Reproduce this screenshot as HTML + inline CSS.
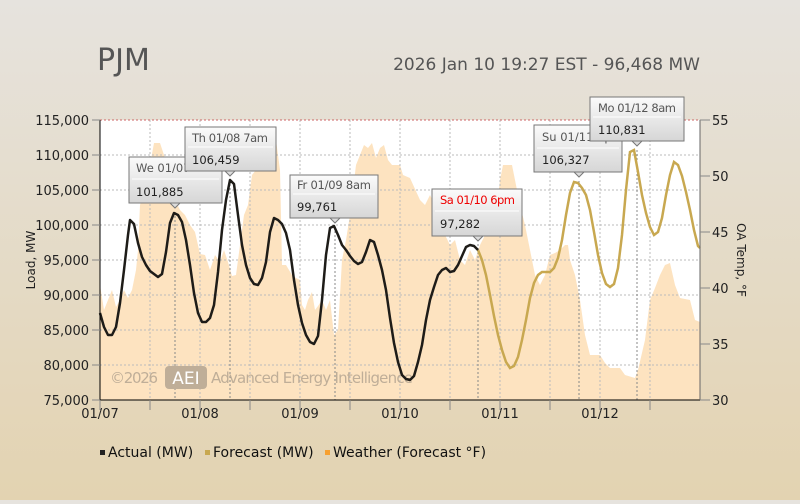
<!DOCTYPE html>
<html><head><meta charset="utf-8"><style>
html,body{margin:0;padding:0;}
body{width:800px;height:500px;background:linear-gradient(#e6e3de,#e3d3b1);font-family:"DejaVu Sans","Liberation Sans",sans-serif;overflow:hidden;}
svg text{font-family:"DejaVu Sans","Liberation Sans",sans-serif;}
</style></head><body>
<svg width="800" height="500" viewBox="0 0 800 500" xmlns="http://www.w3.org/2000/svg">
<defs>
<linearGradient id="tg" x1="0" y1="0" x2="0" y2="1"><stop offset="0" stop-color="#fbfbfb"/><stop offset="1" stop-color="#d6d6d6"/></linearGradient>
</defs>
<text x="97" y="70" font-size="30" fill="#555">PJM</text>
<text x="700" y="70" font-size="17" fill="#555" text-anchor="end">2026 Jan 10 19:27 EST - 96,468 MW</text>
<rect x="100" y="120" width="600" height="280" fill="#fff"/>
<polygon fill="#fde3c0" points="100,400 100,285 104,310 108,300 112,290 116,307 120,300 124,290 128,298 132,290 136,270 138,250 140,205 145,190 150,165 154,143 160,143 165,158 170,175 175,200 180,210 185,215 190,225 195,232 200,254 205,255 210,270 215,255 220,262 224,250 228,262 232,276 236,275 240,245 244,215 248,205 252,175 256,170 260,170 265,160 270,145 276,140 280,170 282,265 286,265 292,275 296,278 300,280 302,305 305,310 308,300 312,292 315,310 318,306 322,300 326,310 330,300 334,335 338,330 342,260 346,240 350,215 356,165 360,155 364,145 368,148 372,143 376,158 380,148 384,145 388,160 392,165 400,165 403,175 410,178 420,200 425,205 430,195 440,215 445,235 450,245 455,240 460,260 465,265 470,250 475,260 480,245 485,235 490,228 495,225 500,180 503,165 512,165 515,180 520,205 525,225 530,250 535,275 540,285 545,275 550,255 555,253 560,250 565,245 568,245 570,260 575,275 580,300 585,335 590,355 600,355 605,363 610,368 620,368 625,375 635,378 638,370 645,340 650,300 655,288 660,275 665,265 670,263 675,285 680,298 690,300 695,320 700,322 700,400"/>
<g stroke="#bbb" stroke-dasharray="2,2" stroke-width="1">
<line x1="100" y1="155" x2="700" y2="155"/><line x1="100" y1="190" x2="700" y2="190"/><line x1="100" y1="225" x2="700" y2="225"/><line x1="100" y1="260" x2="700" y2="260"/><line x1="100" y1="295" x2="700" y2="295"/><line x1="100" y1="330" x2="700" y2="330"/><line x1="100" y1="365" x2="700" y2="365"/>
<line x1="150" y1="120" x2="150" y2="400"/><line x1="200" y1="120" x2="200" y2="400"/><line x1="250" y1="120" x2="250" y2="400"/><line x1="300" y1="120" x2="300" y2="400"/><line x1="350" y1="120" x2="350" y2="400"/><line x1="400" y1="120" x2="400" y2="400"/><line x1="450" y1="120" x2="450" y2="400"/><line x1="500" y1="120" x2="500" y2="400"/><line x1="550" y1="120" x2="550" y2="400"/><line x1="600" y1="120" x2="600" y2="400"/><line x1="650" y1="120" x2="650" y2="400"/>
</g>
<line x1="100" y1="120" x2="700" y2="120" stroke="#c66" stroke-dasharray="2,2"/>
<g stroke="#888" stroke-dasharray="2,2">
<line x1="175" y1="212" x2="175" y2="400"/><line x1="230" y1="180" x2="230" y2="400"/><line x1="335" y1="227" x2="335" y2="400"/><line x1="478" y1="244" x2="478" y2="400"/><line x1="579" y1="181" x2="579" y2="400"/><line x1="637" y1="150" x2="637" y2="400"/>
</g>
<text x="110" y="383" font-size="15" fill="#bfae98" textLength="48">©2026</text>
<rect x="165" y="366" width="42" height="23" rx="4" fill="#bfae98"/>
<text x="186" y="384" font-size="17" fill="#fff" text-anchor="middle">AEI</text>
<text x="211" y="383" font-size="15" fill="#bfae98" textLength="202">Advanced Energy Intelligence</text>
<polyline fill="none" stroke="#c8a850" stroke-width="2.5" points="478,250 482,260 486,275 490,295 494,316 498,335 502,350 506,362 510,368 514,366 518,357 522,340 526,320 530,298 534,283 538,275 542,272 546,272 550,272 554,268 558,258 562,240 566,215 570,193 574,182 578,183 582,188 586,195 590,210 594,232 598,255 602,273 606,284 610,287 614,284 618,268 622,235 626,190 630,152 634,150 638,172 642,195 646,213 650,227 654,235 658,232 662,218 666,195 670,175 674,162 678,165 682,176 686,192 690,210 694,230 698,246 700,248"/>
<polyline fill="none" stroke="#1e1c18" stroke-width="2.5" stroke-linejoin="round" points="100,313 104,327 108,335 112,335 116,327 120,303 124,270 128,235 130,220 134,224 138,243 142,257 146,265 150,271 154,274 158,277 162,274 166,252 170,223 174,213 178,215 182,222 186,240 190,265 194,293 198,313 202,322 206,322 210,318 214,305 218,272 222,230 226,200 230,180 234,184 238,215 242,245 246,265 250,278 254,284 258,285 262,278 266,262 270,232 274,218 278,220 282,224 286,233 290,250 294,280 298,305 302,323 306,335 310,342 314,344 318,336 322,300 326,255 330,228 334,226 338,235 342,245 346,250 350,256 354,261 358,264 362,262 366,252 370,240 374,242 378,255 382,270 386,290 390,318 394,343 398,362 402,375 406,379 410,380 414,376 418,362 422,345 426,320 430,300 434,287 438,275 442,270 446,268 450,272 454,271 458,265 462,256 466,247 470,245 474,246 478,250"/>
<line x1="100" y1="120" x2="100" y2="400" stroke="#000"/>
<line x1="100" y1="400" x2="700" y2="400" stroke="#000"/>
<line x1="700" y1="120" x2="700" y2="400" stroke="#666"/>
<g stroke="#888">
<line x1="92" y1="120" x2="100" y2="120"/><line x1="92" y1="155" x2="100" y2="155"/><line x1="92" y1="190" x2="100" y2="190"/><line x1="92" y1="225" x2="100" y2="225"/><line x1="92" y1="260" x2="100" y2="260"/><line x1="92" y1="295" x2="100" y2="295"/><line x1="92" y1="330" x2="100" y2="330"/><line x1="92" y1="365" x2="100" y2="365"/><line x1="92" y1="400" x2="100" y2="400"/>
<line x1="700" y1="120" x2="710" y2="120"/><line x1="700" y1="176" x2="710" y2="176"/><line x1="700" y1="232" x2="710" y2="232"/><line x1="700" y1="288" x2="710" y2="288"/><line x1="700" y1="344" x2="710" y2="344"/><line x1="700" y1="400" x2="710" y2="400"/>
<line x1="100" y1="400" x2="100" y2="410"/><line x1="150" y1="400" x2="150" y2="410"/><line x1="200" y1="400" x2="200" y2="410"/><line x1="250" y1="400" x2="250" y2="410"/><line x1="300" y1="400" x2="300" y2="410"/><line x1="350" y1="400" x2="350" y2="410"/><line x1="400" y1="400" x2="400" y2="410"/><line x1="450" y1="400" x2="450" y2="410"/><line x1="500" y1="400" x2="500" y2="410"/><line x1="550" y1="400" x2="550" y2="410"/><line x1="600" y1="400" x2="600" y2="410"/><line x1="650" y1="400" x2="650" y2="410"/>
</g>
<g font-size="13" fill="#222" text-anchor="end">
<text x="89" y="125">115,000</text><text x="89" y="160">110,000</text><text x="89" y="195">105,000</text><text x="89" y="230">100,000</text><text x="89" y="265">95,000</text><text x="89" y="300">90,000</text><text x="89" y="335">85,000</text><text x="89" y="370">80,000</text><text x="89" y="405">75,000</text>
</g>
<g font-size="13" fill="#222">
<text x="712" y="125">55</text><text x="712" y="181">50</text><text x="712" y="237">45</text><text x="712" y="293">40</text><text x="712" y="349">35</text><text x="712" y="405">30</text>
</g>
<g font-size="13" fill="#222" text-anchor="middle">
<text x="100" y="418">01/07</text><text x="200" y="418">01/08</text><text x="300" y="418">01/09</text><text x="400" y="418">01/10</text><text x="500" y="418">01/11</text><text x="600" y="418">01/12</text>
</g>
<text transform="translate(35,260) rotate(-90)" font-size="12" fill="#222" text-anchor="middle">Load, MW</text>
<text transform="translate(737,260) rotate(90)" font-size="12" fill="#222" text-anchor="middle">OA Temp, °F</text>
<g font-size="11.5">
<g><rect x="129" y="157" width="93" height="46" fill="url(#tg)" stroke="#777"/><polygon points="170,203 180,203 175,208" fill="#ddd" stroke="#777"/><line x1="132" y1="179" x2="219" y2="179" stroke="#fff"/><text x="136" y="172" fill="#555">We 01/07</text><text x="136" y="196" fill="#222">101,885</text></g>
<g><rect x="185" y="127" width="91" height="44" fill="url(#tg)" stroke="#777"/><polygon points="225,171 235,171 230,176" fill="#ddd" stroke="#777"/><line x1="188" y1="147" x2="273" y2="147" stroke="#fff"/><text x="192" y="142" fill="#555" textLength="76">Th 01/08 7am</text><text x="192" y="164" fill="#222">106,459</text></g>
<g><rect x="290" y="175" width="88" height="43" fill="url(#tg)" stroke="#777"/><polygon points="330,218 340,218 335,223" fill="#ddd" stroke="#777"/><line x1="293" y1="194" x2="375" y2="194" stroke="#fff"/><text x="297" y="189" fill="#555" textLength="74">Fr 01/09 8am</text><text x="297" y="211" fill="#222">99,761</text></g>
<g><rect x="432" y="189" width="90" height="47" fill="url(#tg)" stroke="#777"/><polygon points="473,236 483,236 478,241" fill="#ddd" stroke="#777"/><line x1="435" y1="211" x2="519" y2="211" stroke="#fff"/><text x="440" y="204" fill="#e00" textLength="75">Sa 01/10 6pm</text><text x="440" y="228" fill="#222">97,282</text></g>
<g><rect x="534" y="125" width="88" height="47" fill="url(#tg)" stroke="#777"/><polygon points="574,172 584,172 579,177" fill="#ddd" stroke="#777"/><line x1="537" y1="148" x2="619" y2="148" stroke="#fff"/><text x="542" y="141" fill="#555">Su 01/11 7pm</text><text x="542" y="164" fill="#222">106,327</text></g>
<g><rect x="590" y="97" width="94" height="44" fill="url(#tg)" stroke="#777"/><polygon points="632,141 642,141 637,146" fill="#ddd" stroke="#777"/><line x1="593" y1="117" x2="681" y2="117" stroke="#fff"/><text x="598" y="112" fill="#555" textLength="78">Mo 01/12 8am</text><text x="598" y="134" fill="#222">110,831</text></g>
</g>
<rect x="600" y="126" width="0" height="0"/>
<g font-size="14" fill="#111">
<rect x="100" y="450" width="5" height="5" fill="#222"/><text x="108" y="457">Actual (MW)</text>
<rect x="205" y="450" width="5" height="5" fill="#c8a850"/><text x="213" y="457">Forecast (MW)</text>
<rect x="325" y="450" width="5" height="5" fill="#f7a030"/><text x="333" y="457">Weather (Forecast °F)</text>
</g>
</svg>
</body></html>
